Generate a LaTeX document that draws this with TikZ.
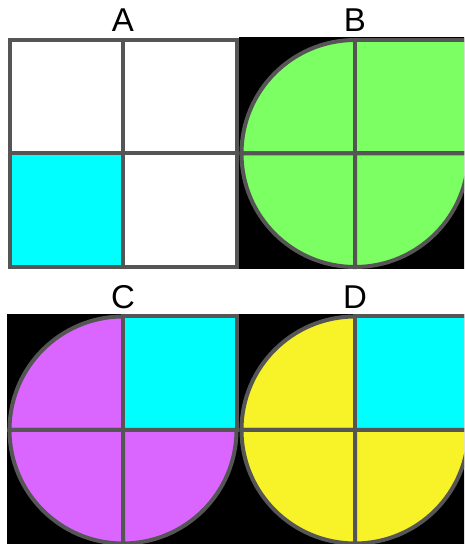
\documentclass[tikz,border=0pt]{standalone}
\usepackage{fontspec}
\setmainfont{Liberation Sans}
\definecolor{edgegray}{RGB}{85,85,85}
\definecolor{lgreen}{RGB}{124,255,98}
\definecolor{lpurple}{RGB}{218,102,255}
\definecolor{lyellow}{RGB}{248,242,40}
\definecolor{lcyan}{RGB}{0,255,255}
\newcommand{\qsq}[5]{\filldraw[quad, fill=#5] (#1,#2) rectangle ++(#3,#4);}
\newcommand{\qarc}[4]{\filldraw[quad, fill=#4] (#1,#2) -- ++(#3:113.5) arc[start angle=#3, delta angle=90, radius=113.5] -- cycle;}
\begin{document}
\begin{tikzpicture}[x=1pt,y=1pt,
  quad/.style={draw=edgegray, line width=4pt, line join=miter},
  lab/.style={font=\fontsize{33}{36}\selectfont, inner sep=0pt, text=black}]
\useasboundingbox (0,0) rectangle (464,544);
\clip (0,0) rectangle (464,544);
\fill[white] (0,0) rectangle (464,544);
% backgrounds
\fill[black] (239,274.5) rectangle (471,506.5);
\fill[black] (7,-2) rectangle (239,230);
\fill[black] (239,-2) rectangle (471,230);
% Panel A (centre 123,390.5)
\qsq{123}{390.5}{-113.5}{113.5}{white}
\qsq{123}{390.5}{113.5}{113.5}{white}
\qsq{123}{390.5}{-113.5}{-113.5}{lcyan}
\qsq{123}{390.5}{113.5}{-113.5}{white}
% Panel B (centre 355,390.5)
\qarc{355}{390.5}{90}{lgreen}
\qsq{355}{390.5}{113.5}{113.5}{lgreen}
\qarc{355}{390.5}{180}{lgreen}
\qarc{355}{390.5}{270}{lgreen}
% Panel C (centre 123,114)
\qarc{123}{114}{90}{lpurple}
\qsq{123}{114}{113.5}{113.5}{lcyan}
\qarc{123}{114}{180}{lpurple}
\qarc{123}{114}{270}{lpurple}
% Panel D (centre 355,114)
\qarc{355}{114}{90}{lyellow}
\qsq{355}{114}{113.5}{113.5}{lcyan}
\qarc{355}{114}{180}{lyellow}
\qarc{355}{114}{270}{lyellow}
% labels
\node[lab] (labA) at (123,524) {A};
\node[lab] (labB) at (355,524) {B};
\node[lab] (labC) at (123,247) {C};
\node[lab] (labD) at (355,247) {D};
\end{tikzpicture}
\end{document}
